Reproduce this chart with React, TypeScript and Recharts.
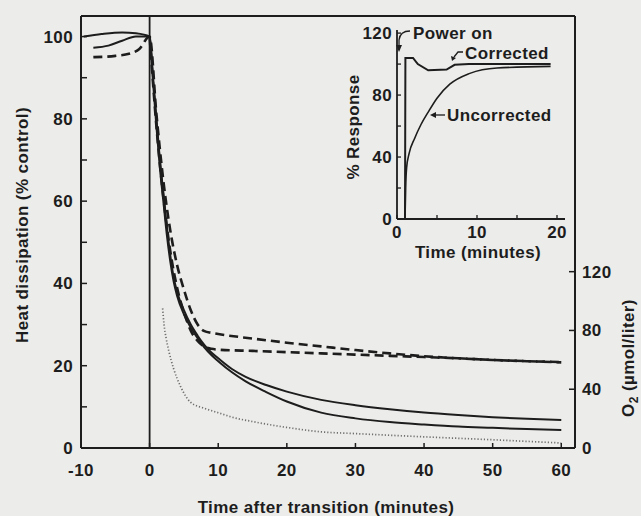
import React from 'react';
import { LineChart, Line, XAxis, YAxis, ReferenceLine } from 'recharts';

const INK = '#1d1d1d';
const FONT = '"Liberation Sans", Arial, Helvetica, sans-serif';
const FS = 17;

// ---- Main chart data (time in minutes, heat dissipation % of control) ----
const solidA = [
  { t: -9.6, v: 100 }, { t: -7, v: 100.6 }, { t: -4, v: 101 }, { t: -2, v: 100.8 }, { t: 0, v: 100 },
  { t: 0.5, v: 90 }, { t: 1, v: 80 }, { t: 1.5, v: 70 }, { t: 2, v: 62 }, { t: 2.5, v: 54 },
  { t: 3, v: 47 }, { t: 3.5, v: 41.5 }, { t: 4, v: 38 }, { t: 5, v: 33.5 }, { t: 6, v: 30 },
  { t: 7, v: 27.3 }, { t: 8, v: 25 }, { t: 9, v: 23.2 }, { t: 10, v: 21.8 }, { t: 12, v: 19.2 },
  { t: 14, v: 17.3 }, { t: 17, v: 15.3 }, { t: 20, v: 13.7 }, { t: 25, v: 11.7 }, { t: 30, v: 10.4 },
  { t: 35, v: 9.4 }, { t: 40, v: 8.6 }, { t: 45, v: 8.0 }, { t: 50, v: 7.5 }, { t: 55, v: 7.1 }, { t: 60, v: 6.8 },
];
const solidB = [
  { t: -8.2, v: 97.3 }, { t: -6, v: 97.8 }, { t: -4, v: 99 }, { t: -2, v: 100 }, { t: 0, v: 100 },
  { t: 0.5, v: 89 }, { t: 1, v: 78 }, { t: 1.5, v: 68 }, { t: 2, v: 60 }, { t: 2.5, v: 52 },
  { t: 3, v: 45.5 }, { t: 3.5, v: 40.5 }, { t: 4, v: 37 }, { t: 5, v: 32.5 }, { t: 6, v: 29.3 },
  { t: 7, v: 26.7 }, { t: 8, v: 24.4 }, { t: 9, v: 22.6 }, { t: 10, v: 21.1 }, { t: 12, v: 18.4 },
  { t: 14, v: 16.2 }, { t: 17, v: 13.6 }, { t: 20, v: 11.3 }, { t: 25, v: 8.6 }, { t: 30, v: 7.2 },
  { t: 35, v: 6.3 }, { t: 40, v: 5.7 }, { t: 45, v: 5.2 }, { t: 50, v: 4.9 }, { t: 55, v: 4.6 }, { t: 60, v: 4.4 },
];
const dashedA = [
  { t: -8.2, v: 95 }, { t: -5, v: 95.3 }, { t: -3, v: 95.8 }, { t: -1.5, v: 97 }, { t: 0, v: 100 },
  { t: 1, v: 81 }, { t: 2, v: 65 }, { t: 3, v: 53 }, { t: 4, v: 44.5 }, { t: 5, v: 38.5 },
  { t: 6, v: 33.5 }, { t: 7, v: 30 }, { t: 8, v: 28.4 }, { t: 9, v: 28 }, { t: 10, v: 27.7 },
  { t: 15, v: 26.6 }, { t: 20, v: 25.6 }, { t: 25, v: 24.7 }, { t: 30, v: 23.8 }, { t: 35, v: 23 },
  { t: 40, v: 22.3 }, { t: 45, v: 21.8 }, { t: 50, v: 21.4 }, { t: 55, v: 21.1 }, { t: 60, v: 20.9 },
];
const dashedB = [
  { t: 0, v: 100 }, { t: 1, v: 78 }, { t: 2, v: 61 }, { t: 3, v: 48 }, { t: 4, v: 39 },
  { t: 5, v: 33 }, { t: 6, v: 28.5 }, { t: 7, v: 26 }, { t: 8, v: 24.6 }, { t: 9, v: 24.1 },
  { t: 10, v: 23.9 }, { t: 15, v: 23.6 }, { t: 20, v: 23.3 }, { t: 25, v: 23 }, { t: 30, v: 22.7 },
  { t: 35, v: 22.4 }, { t: 40, v: 22.1 }, { t: 45, v: 21.8 }, { t: 50, v: 21.4 }, { t: 55, v: 21.1 }, { t: 60, v: 20.8 },
];
// O2 concentration (µmol/liter), right axis
const oxygen = [
  { t: 1.9, v: 95 }, { t: 2.1, v: 84 }, { t: 2.4, v: 75 }, { t: 2.8, v: 66 }, { t: 3.5, v: 54 },
  { t: 4.5, v: 42 }, { t: 6, v: 31 }, { t: 8, v: 27 }, { t: 10, v: 24 }, { t: 12, v: 21 },
  { t: 15, v: 18 }, { t: 20, v: 14 }, { t: 25, v: 11 }, { t: 30, v: 9.8 }, { t: 40, v: 7.6 },
  { t: 50, v: 5.6 }, { t: 60, v: 3.4 },
];

// ---- Inset data (time in minutes, % response) ----
const corrected = [
  { t: 1.0, v: 0 }, { t: 1.05, v: 104 }, { t: 2.0, v: 104 }, { t: 2.6, v: 100 }, { t: 3.9, v: 96 },
  { t: 6.2, v: 96.5 }, { t: 7.2, v: 99.5 }, { t: 9, v: 100 }, { t: 14, v: 100 }, { t: 19.2, v: 100 },
];
const uncorrected = [
  { t: 1.0, v: 0 }, { t: 1.08, v: 20 }, { t: 1.2, v: 33 }, { t: 1.5, v: 42 }, { t: 2.2, v: 52 },
  { t: 3, v: 61 }, { t: 3.9, v: 69 }, { t: 5, v: 78 }, { t: 6.6, v: 87 }, { t: 9.1, v: 94 },
  { t: 12.5, v: 97.5 }, { t: 19.2, v: 98.5 },
];

const mainXTicks = [-10, 0, 10, 20, 30, 40, 50, 60];
const heatTicks = [0, 10, 20, 30, 40, 50, 60, 70, 80, 90, 100];
const o2Ticks = [0, 40, 80, 120];
const insetXTicks = [0, 5, 10, 15, 20];
const insetYTicks = [0, 20, 40, 60, 80, 100, 120];

const txt = { fontFamily: FONT, fontWeight: 700, fontSize: FS, fill: INK, letterSpacing: 0.4 } as const;

const BottomTick = (p: any) => (
  <g>
    <line x1={p.x} y1={p.y} x2={p.x} y2={p.y - 5} stroke={INK} strokeWidth={1.5} />
    <text x={p.x} y={p.y} dy={28} textAnchor="middle" style={txt}>{p.payload.value}</text>
  </g>
);
const LeftTick = (p: any) => {
  const major = p.payload.value % 20 === 0;
  return (
    <g>
      <line x1={p.x} y1={p.y} x2={p.x + 6} y2={p.y} stroke={INK} strokeWidth={1.5} />
      {major && <text x={p.x - 8} y={p.y} dy={6} textAnchor="end" style={txt}>{p.payload.value}</text>}
    </g>
  );
};
const RightTick = (p: any) => (
  <g>
    <line x1={p.x} y1={p.y} x2={p.x - 6} y2={p.y} stroke={INK} strokeWidth={1.5} />
    <text x={p.x + 7} y={p.y} dy={6} textAnchor="start" style={txt}>{p.payload.value}</text>
  </g>
);
const InsetBottomTick = (p: any) => {
  const major = p.payload.value % 10 === 0;
  return (
    <g>
      <line x1={p.x} y1={p.y} x2={p.x} y2={p.y - 4} stroke={INK} strokeWidth={1.3} />
      {major && <text x={p.x} y={p.y} dy={19} textAnchor="middle" style={txt}>{p.payload.value}</text>}
    </g>
  );
};
const InsetLeftTick = (p: any) => {
  const major = p.payload.value % 40 === 0;
  return (
    <g>
      <line x1={p.x} y1={p.y} x2={p.x + 4} y2={p.y} stroke={INK} strokeWidth={1.3} />
      {major && <text x={p.x - 5} y={p.y} dy={6} textAnchor="end" style={txt}>{p.payload.value}</text>}
    </g>
  );
};

export default function App() {
  return (
    <div style={{ position: 'absolute', left: 0, top: 0, width: 641, height: 516, background: '#ececea' }}>
      <div style={{ position: 'absolute', left: 0, top: 0 }}>
        <LineChart width={641} height={516} margin={{ top: 16, right: 16, bottom: 8, left: 26 }}>
          <XAxis type="number" dataKey="t" domain={[-10, 62]} ticks={mainXTicks} interval={0}
            allowDataOverflow height={60} tickSize={0} tickMargin={0} tickLine={false} tick={BottomTick}
            axisLine={{ stroke: INK, strokeWidth: 2 }} />
          <YAxis yAxisId="heat" orientation="left" type="number" domain={[0, 105]} ticks={heatTicks}
            interval={0} width={55} tickSize={0} tickMargin={0} tickLine={false} tick={LeftTick}
            axisLine={{ stroke: INK, strokeWidth: 2 }} allowDataOverflow />
          <YAxis yAxisId="o2" orientation="right" type="number" domain={[0, 294]} ticks={o2Ticks}
            interval={0} width={50} tickSize={0} tickMargin={0} tickLine={false} tick={RightTick}
            axisLine={{ stroke: INK, strokeWidth: 2 }} allowDataOverflow />
          <ReferenceLine yAxisId="heat" y={105} stroke={INK} strokeWidth={2} />
          <ReferenceLine yAxisId="heat" x={0} stroke={INK} strokeWidth={1.8} />
          <Line yAxisId="o2" data={oxygen} dataKey="v" type="monotone" stroke="#6f6f6f" strokeWidth={1.7}
            strokeDasharray="1.2 2" dot={false} isAnimationActive={false} />
          <Line yAxisId="heat" data={dashedA} dataKey="v" type="monotone" stroke={INK} strokeWidth={2.6}
            strokeDasharray="9 5" dot={false} isAnimationActive={false} />
          <Line yAxisId="heat" data={dashedB} dataKey="v" type="monotone" stroke={INK} strokeWidth={2.6}
            strokeDasharray="9 5" dot={false} isAnimationActive={false} />
          <Line yAxisId="heat" data={solidA} dataKey="v" type="monotone" stroke={INK} strokeWidth={2}
            dot={false} isAnimationActive={false} />
          <Line yAxisId="heat" data={solidB} dataKey="v" type="monotone" stroke={INK} strokeWidth={2}
            dot={false} isAnimationActive={false} />
          <text transform="translate(22,225) rotate(-90)" textAnchor="middle" dy={6} style={txt}>
            Heat dissipation (% control)
          </text>
          <text transform="translate(628,358) rotate(-90)" textAnchor="middle" dy={6} style={txt}>
            O<tspan dy={4} fontSize={12}>2</tspan><tspan dy={-4}> (µmol/liter)</tspan>
          </text>
          <text x={326} y={513} textAnchor="middle" style={txt}>Time after transition (minutes)</text>
        </LineChart>
      </div>
      <div style={{ position: 'absolute', left: 300, top: 0 }}>
        <LineChart width={280} height={270} margin={{ top: 30, right: 15, bottom: 6, left: 47 }}>
          <XAxis type="number" dataKey="t" domain={[0, 21]} ticks={insetXTicks} interval={0}
            allowDataOverflow height={45} tickSize={0} tickMargin={0} tickLine={false} tick={InsetBottomTick}
            axisLine={{ stroke: INK, strokeWidth: 1.8 }} />
          <YAxis type="number" domain={[0, 122]} ticks={insetYTicks} interval={0} width={50}
            tickSize={0} tickMargin={0} tickLine={false} tick={InsetLeftTick}
            axisLine={{ stroke: INK, strokeWidth: 1.8 }} allowDataOverflow />
          <Line data={corrected} dataKey="v" type="linear" stroke={INK} strokeWidth={2}
            dot={false} isAnimationActive={false} />
          <Line data={uncorrected} dataKey="v" type="monotone" stroke={INK} strokeWidth={1.6}
            dot={false} isAnimationActive={false} />
          <text transform="translate(53,127) rotate(-90)" textAnchor="middle" dy={6} style={txt}>% Response</text>
          <text x={178} y={258} textAnchor="middle" style={txt}>Time (minutes)</text>
          <text x={113} y={39} style={txt}>Power on</text>
          <path d="M 110 31 Q 100 31 99 40 L 99 46" fill="none" stroke={INK} strokeWidth={1.3} />
          <path d="M 96 45 L 99 52 L 102 45 Z" fill={INK} />
          <text x={165} y={59} style={txt}>Corrected</text>
          <path d="M 163 52 L 158 52 L 154 57" fill="none" stroke={INK} strokeWidth={1.3} />
          <path d="M 151 56 L 152 61 L 156 58 Z" fill={INK} />
          <text x={147} y={121} style={txt}>Uncorrected</text>
          <path d="M 145 115 L 135 115" fill="none" stroke={INK} strokeWidth={1.3} />
          <path d="M 136 112 L 130 115 L 136 118 Z" fill={INK} />
        </LineChart>
      </div>
    </div>
  );
}
